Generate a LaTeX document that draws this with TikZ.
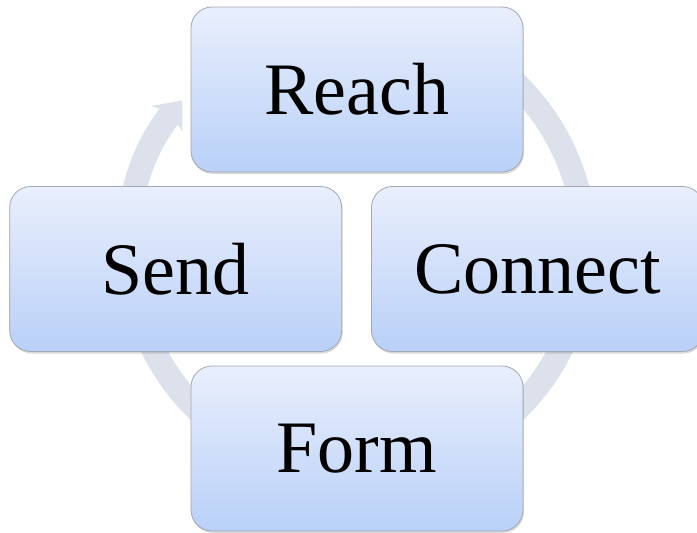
\documentclass[tikz,border=0pt]{standalone}
\usepackage{fontspec}
\setmainfont{Liberation Serif}
\usepackage{tikz}
\usetikzlibrary{arrows.meta,positioning,shadows}
\definecolor{boxtop}{HTML}{E9EFFC}
\definecolor{boxbottom}{HTML}{B9D0F8}
\definecolor{boxline}{HTML}{A4A8B2}
\definecolor{ringgray}{HTML}{DDE1EB}

\begin{document}
\begin{tikzpicture}[x=1pt,y=1pt,node distance=29pt,
  stage node/.style={draw=boxline,line width=.8pt,rounded corners=21pt,minimum width=332pt,minimum height=165pt,inner sep=0pt,top color=boxtop,bottom color=boxbottom,drop shadow={shadow xshift=1pt,shadow yshift=-2pt,opacity=.3,fill=gray},font=\fontsize{74}{80}\selectfont},
  ring/.style={draw=ringgray,line width=24pt,-{Stealth[length=24pt,width=40pt,inset=7pt]}}]
  \useasboundingbox (-357,-286) rectangle (340,247);
  % cycle behind the boxes
  \draw[ring] (120:228) arc[start angle=120,end angle=-220,radius=228];
  \node[stage node] (connect) at (180.5,-22) {Connect};
  \node[stage node,left=of connect] (send) {Send};
  \node[stage node] (reach) at (0,157.5) {Reach};
  \node[stage node] (form) at (0,-201.5) {Form};
\end{tikzpicture}
\end{document}
